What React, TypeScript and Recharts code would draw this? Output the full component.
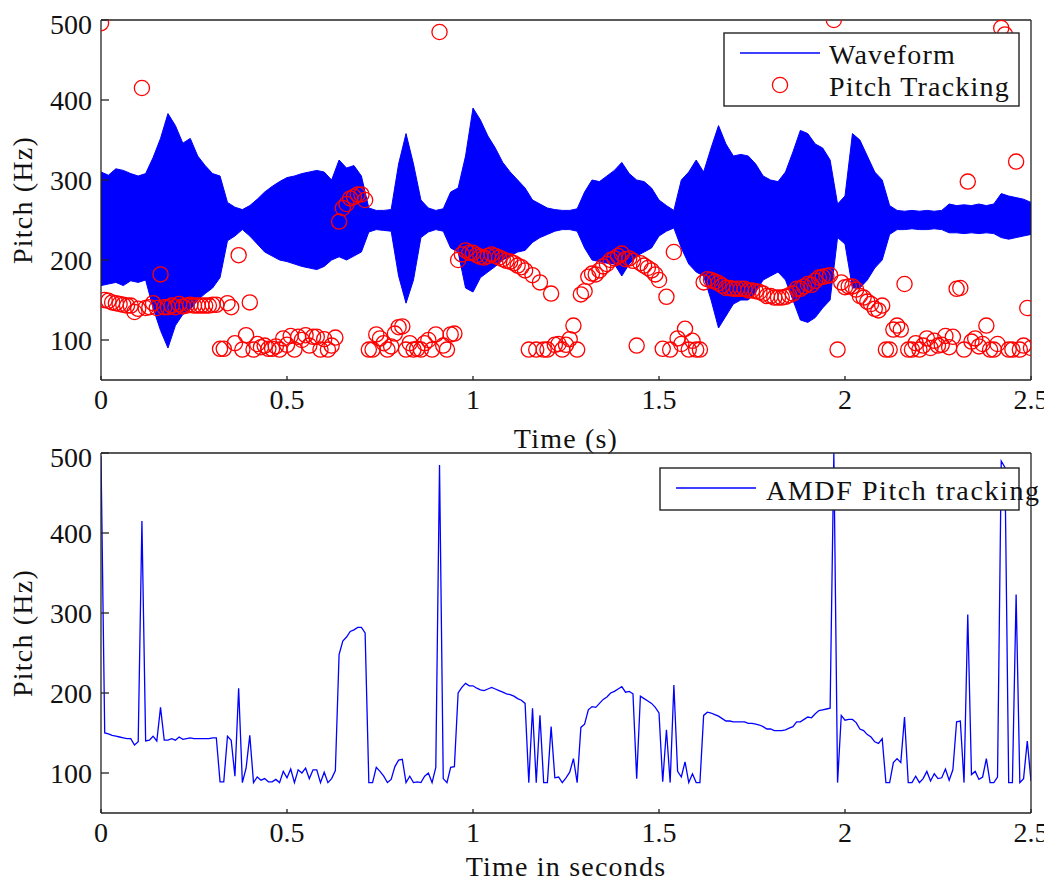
import { Area, ComposedChart, Legend, Line, LineChart, Scatter, XAxis, YAxis } from 'recharts'

// AMDF pitch estimate, one frame every 10 ms (0 .. 2.5 s)
const pitchHz = [
  496, 150, 149, 147, 146, 145, 144, 143, 143, 135, 139, 415, 140, 141, 146, 140, 182, 141, 141, 143,
  141, 145, 142, 143, 144, 143, 143, 143, 143, 143, 144, 144, 89, 89, 146, 141, 96, 206, 88, 106,
  147, 88, 95, 91, 93, 89, 89, 92, 88, 102, 94, 105, 88, 104, 100, 106, 93, 104, 104, 88,
  101, 88, 93, 103, 248, 265, 270, 277, 279, 282, 282, 275, 88, 88, 107, 102, 96, 88, 92, 108,
  116, 117, 88, 96, 88, 89, 88, 96, 100, 88, 107, 485, 93, 88, 107, 108, 200, 207, 212, 209,
  209, 206, 204, 203, 205, 207, 205, 203, 201, 199, 198, 196, 193, 191, 187, 88, 181, 88, 172, 88,
  88, 158, 94, 95, 88, 94, 101, 118, 88, 157, 161, 179, 183, 182, 187, 192, 195, 200, 202, 205,
  208, 201, 202, 199, 93, 196, 193, 190, 187, 182, 175, 89, 154, 88, 210, 102, 95, 114, 88, 99,
  88, 88, 172, 176, 175, 173, 171, 168, 165, 165, 164, 164, 164, 164, 162, 162, 161, 160, 158, 155,
  155, 153, 153, 153, 154, 156, 158, 164, 164, 167, 170, 169, 174, 178, 179, 180, 181, 500, 88, 172,
  166, 167, 167, 163, 155, 153, 148, 145, 139, 137, 143, 88, 88, 113, 118, 113, 170, 88, 88, 96,
  88, 93, 102, 90, 99, 93, 94, 105, 91, 104, 164, 165, 88, 298, 98, 102, 92, 95, 118, 88,
  88, 95, 490, 482, 88, 88, 323, 88, 93, 140, 90,
]

// waveform envelope (scaled onto the pitch axis), every 20 ms
const waveHigh = [
  310, 306, 314, 312, 308, 305, 308, 328, 352, 383, 368, 346, 352, 330, 318, 308, 305, 272, 266, 263,
  268, 276, 285, 292, 298, 303, 305, 308, 310, 312, 310, 300, 325, 315, 318, 305, 265, 262, 262, 263,
  320, 358, 320, 275, 265, 262, 264, 285, 290, 330, 390, 375, 355, 340, 322, 310, 300, 290, 275, 270,
  265, 263, 262, 262, 264, 285, 300, 298, 305, 312, 322, 308, 300, 298, 290, 275, 268, 262, 300, 310,
  325, 310, 340, 368, 345, 330, 332, 330, 320, 305, 300, 298, 310, 335, 362, 358, 345, 340, 325, 270,
  280, 358, 350, 330, 310, 300, 268, 262, 261, 262, 261, 262, 261, 262, 270, 268, 269, 268, 270, 268,
  270, 283, 280, 278, 276, 272,
]
const waveLow = [
  168, 170, 172, 168, 174, 172, 175, 140, 112, 90, 118, 132, 138, 150, 158, 165, 178, 224, 230, 238,
  230, 220, 210, 205, 200, 198, 195, 192, 190, 188, 192, 200, 204, 200, 205, 210, 235, 238, 237, 236,
  180, 146, 175, 228, 235, 238, 236, 215, 210, 165, 160, 178, 185, 192, 200, 205, 210, 212, 222, 228,
  232, 236, 238, 238, 236, 215, 200, 198, 196, 195, 180, 195, 205, 210, 215, 230, 236, 240, 215, 195,
  185, 180, 150, 115, 130, 145, 150, 150, 160, 175, 180, 185, 175, 150, 125, 122, 128, 140, 150, 228,
  220, 165, 165, 175, 190, 200, 232, 238, 238, 239, 238, 238, 239, 238, 234, 234, 233, 234, 233, 234,
  233, 228, 226, 228, 230, 232,
]

const timeTicks = [0, 0.5, 1, 1.5, 2, 2.5]
const pitchTicks = [100, 200, 300, 400, 500]

const pitchRows = pitchHz.map((f, i) => ({ t: i / 100, f }))
const waveRows = waveHigh.map((hi, i) => ({ t: i / 50, band: [waveLow[i], hi] }))

const FONT = '"Liberation Serif", "Times New Roman", serif'
const INK = '#222'
const tickStyle = { fill: '#111', fontSize: 28, fontFamily: FONT }
const labelStyle = { fill: '#111', fontSize: 28, fontFamily: FONT, letterSpacing: 1.2 }

function PitchCircle(props: any) {
  const { cx, cy } = props
  if (cx == null || cy == null) return null
  return <circle cx={cx} cy={cy} r={7.6} fill="none" stroke="#ff0000" strokeWidth={1.3} />
}

function TopLegend() {
  return (
    <svg width={297} height={76} style={{ display: 'block' }}>
      <rect x={1} y={1} width={295} height={73} fill="#fff" stroke={INK} strokeWidth={1.4} />
      <line x1={17} x2={97} y1={21} y2={21} stroke="#0000ff" strokeWidth={1.4} />
      <text x={106} y={32} style={labelStyle}>Waveform</text>
      <circle cx={57} cy={53} r={7.6} fill="none" stroke="#ff0000" strokeWidth={1.3} />
      <text x={106} y={64} style={labelStyle}>Pitch Tracking</text>
    </svg>
  )
}

function BottomLegend() {
  return (
    <svg width={400} height={46} style={{ display: 'block', overflow: 'visible' }}>
      <rect x={1} y={1} width={359} height={42} fill="#fff" stroke={INK} strokeWidth={1.4} />
      <line x1={17} x2={97} y1={21} y2={21} stroke="#0000ff" strokeWidth={1.4} />
      <text x={107} y={33} style={{ ...labelStyle, letterSpacing: 1.6 }}>AMDF Pitch tracking</text>
    </svg>
  )
}

const fmt = (v: number) => String(v)

export default function App() {
  return (
    <div style={{ position: 'relative', width: 1044, height: 876, background: '#fff' }}>
      <div style={{ position: 'absolute', left: 0, top: 0 }}>
        <ComposedChart width={1044} height={447} data={waveRows} margin={{ top: 10, right: 19, bottom: 0, left: 0 }}>
          <XAxis
            dataKey="t"
            type="number"
            domain={[0, 2.5]}
            ticks={timeTicks}
            tickFormatter={fmt}
            allowDataOverflow
            height={75}
            tickSize={-4}
            tickMargin={13}
            stroke={INK}
            strokeWidth={1.3}
            tick={tickStyle}
            label={{ value: 'Time (s)', position: 'insideBottom', offset: 7, style: labelStyle }}
          />
          <XAxis xAxisId="top" orientation="top" dataKey="t" type="number" domain={[0, 2.5]} ticks={timeTicks} allowDataOverflow height={2} tickSize={-4} tick={false} stroke={INK} strokeWidth={1.3} />
          <YAxis
            type="number"
            domain={[50, 500]}
            ticks={pitchTicks}
            allowDataOverflow
            width={93}
            tickSize={-8}
            tickMargin={17}
            stroke={INK}
            strokeWidth={1.3}
            tick={tickStyle}
            label={{ value: 'Pitch (Hz)', angle: -90, position: 'insideLeft', offset: 14, style: { ...labelStyle, textAnchor: 'middle' } }}
          />
          <YAxis yAxisId="right" orientation="right" type="number" domain={[50, 500]} ticks={pitchTicks} allowDataOverflow width={2} tickSize={-8} tick={false} stroke={INK} strokeWidth={1.3} />
          <Area dataKey="band" type="linear" stroke="#0000ff" strokeWidth={1} fill="#0000ff" fillOpacity={1} isAnimationActive={false} />
          <Scatter data={pitchRows} dataKey="f" shape={(p: any) => <PitchCircle {...p} />} isAnimationActive={false} />
          <Legend layout="vertical" align="center" verticalAlign="middle" wrapperStyle={{ left: 715, top: 24, width: 297, height: 76 }} content={() => <TopLegend />} />
        </ComposedChart>
      </div>
      <div style={{ position: 'absolute', left: 0, top: 433 }}>
        <LineChart width={1044} height={442} data={pitchRows} margin={{ top: 10, right: 19, bottom: 0, left: 0 }}>
          <XAxis
            dataKey="t"
            type="number"
            domain={[0, 2.5]}
            ticks={timeTicks}
            tickFormatter={fmt}
            allowDataOverflow
            height={70}
            tickSize={-4}
            tickMargin={13}
            stroke={INK}
            strokeWidth={1.3}
            tick={tickStyle}
            label={{ value: 'Time in seconds', position: 'insideBottom', offset: 7, style: labelStyle }}
          />
          <XAxis xAxisId="top" orientation="top" dataKey="t" type="number" domain={[0, 2.5]} ticks={timeTicks} allowDataOverflow height={2} tickSize={-4} tick={false} stroke={INK} strokeWidth={1.3} />
          <YAxis
            type="number"
            domain={[50, 500]}
            ticks={pitchTicks}
            allowDataOverflow
            width={93}
            tickSize={-8}
            tickMargin={17}
            stroke={INK}
            strokeWidth={1.3}
            tick={tickStyle}
            label={{ value: 'Pitch (Hz)', angle: -90, position: 'insideLeft', offset: 14, style: { ...labelStyle, textAnchor: 'middle' } }}
          />
          <YAxis yAxisId="right" orientation="right" type="number" domain={[50, 500]} ticks={pitchTicks} allowDataOverflow width={2} tickSize={-8} tick={false} stroke={INK} strokeWidth={1.3} />
          <Line dataKey="f" type="linear" stroke="#0000ff" strokeWidth={1.3} dot={false} isAnimationActive={false} />
          <Legend layout="vertical" align="center" verticalAlign="middle" wrapperStyle={{ left: 651, top: 26, width: 400, height: 46 }} content={() => <BottomLegend />} />
        </LineChart>
      </div>
    </div>
  )
}
